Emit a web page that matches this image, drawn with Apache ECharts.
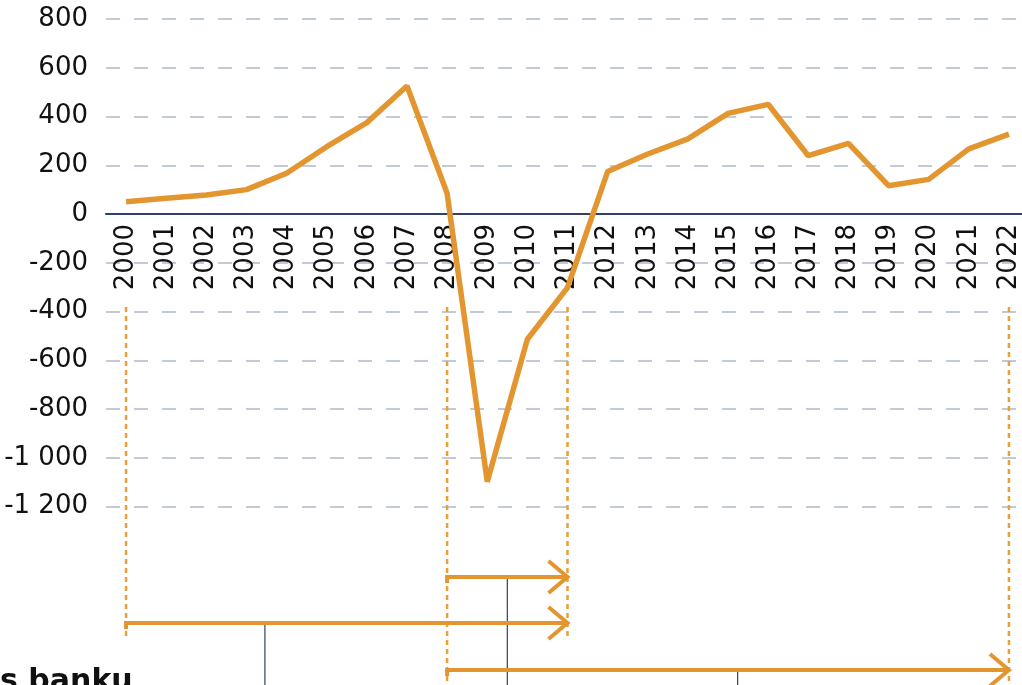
<!DOCTYPE html>
<html>
<head>
<meta charset="utf-8">
<style>
  html, body { margin: 0; padding: 0; background: #fff; }
  #chart { width: 1022px; height: 685px; }
</style>
<script src="https://cdn.jsdelivr.net/npm/echarts@6/dist/echarts.min.js"></script>
</head>
<body>
<div id="chart"></div>
<script>
// kategorie (roky) a hodnoty řady
const years = ['2000', '2001', '2002', '2003', '2004', '2005', '2006', '2007', '2008', '2009', '2010', '2011',
  '2012', '2013', '2014', '2015', '2016', '2017', '2018', '2019', '2020', '2021', '2022'];
const values = [50, 65, 78, 100, 167, 276, 375, 525, 85, -1098, -514, -302,
  174, 246, 308, 413, 450, 239, 290, 116, 142, 267, 328];

// osa Y
const yMin = -1200, yMax = 800, yStep = 200;

// anotace pod grafem: svislé tečkované čáry a šipky (od roku, do roku)
const guideYears = ['2000', '2008', '2011', '2022'];
const arrowSpans = [['2008', '2011'], ['2000', '2011'], ['2008', '2022']];

const ORANGE = '#e3962f';
const NAVY = '#2f4166';
const FONT = 'DejaVu Sans';
const gridH = 487.5;

const fmt = (v) => {
  const s = String(Math.abs(v));
  const t = s.length > 3 ? s.slice(0, -3) + ' ' + s.slice(-3) : s;
  return (v < 0 ? '-' : '') + t;
};

const chart = echarts.init(document.getElementById('chart'));
chart.setOption({
  animation: false,
  backgroundColor: '#fff',
  grid: { left: 106, top: 19, width: 923, height: gridH, outerBoundsMode: 'none', containLabel: false },
  xAxis: {
    type: 'category',
    data: years,
    boundaryGap: true,
    // osa X leží na nule, i s popisky
    offset: -gridH * (0 - yMin) / (yMax - yMin),
    axisLine: { onZero: false, lineStyle: { color: NAVY, width: 2.2 } },
    axisTick: { show: false },
    axisLabel: { rotate: 90, margin: 10, fontSize: 26, color: '#111', fontFamily: FONT, interval: 0 },
    z: 3,
  },
  yAxis: {
    type: 'value',
    min: yMin, max: yMax, interval: yStep,
    axisLine: { show: false },
    axisTick: { show: false },
    axisLabel: { fontSize: 26, color: '#111', fontFamily: FONT, margin: 18, formatter: fmt },
    splitLine: { lineStyle: { color: '#afb8ca', width: 1.5, type: [14, 14] } },
  },
  series: [{
    type: 'line',
    data: values,
    symbol: 'none',
    lineStyle: { color: ORANGE, width: 5.5 },
    z: 5,
  }],
});

// poloha kategorie v pixelech
const px = (y) => chart.convertToPixel({ xAxisIndex: 0 }, y);
const step = px('2001') - px('2000');
const bottom = 690;
const elements = [];

// tečkované svislé čáry
guideYears.forEach((y) => {
  const x = px(y);
  const end = (y === '2000' || y === '2011') ? 637 : bottom;
  elements.push({
    type: 'line', shape: { x1: x, y1: 307, x2: x, y2: end },
    style: { stroke: '#e8a03a', lineWidth: 2.5, lineDash: [5, 4] }, z: 10,
  });
});

// šipky
const arrowY = [577, 623, 670];
arrowSpans.forEach(([a, b], i) => {
  const x1 = px(a), x2 = px(b), y = arrowY[i];
  elements.push({
    type: 'polyline', shape: { points: [[x1, y + 6], [x1, y], [x2, y]] },
    style: { stroke: ORANGE, lineWidth: 4, fill: null }, z: 11,
  });
  elements.push({
    type: 'polyline', shape: { points: [[x2 - 19, y - 16], [x2, y], [x2 - 19, y + 16]] },
    style: { stroke: ORANGE, lineWidth: 4, fill: null, lineJoin: 'miter' }, z: 11,
  });
});

// tenké tmavé spojnice
const connectors = [[3.46, 623], [9.5, 577], [15.24, 670]];
connectors.forEach(([k, y]) => {
  const x = px('2000') + k * step;
  elements.push({
    type: 'line', shape: { x1: x, y1: y, x2: x, y2: bottom },
    style: { stroke: NAVY, lineWidth: 1.2 }, z: 9,
  });
});

elements.push({
  type: 'text', left: 0, top: 667,
  style: { text: 's banku', font: 'bold 30px "' + FONT + '"', fill: '#111' },
  z: 12,
});

chart.setOption({ graphic: { elements } });
</script>
</body>
</html>
